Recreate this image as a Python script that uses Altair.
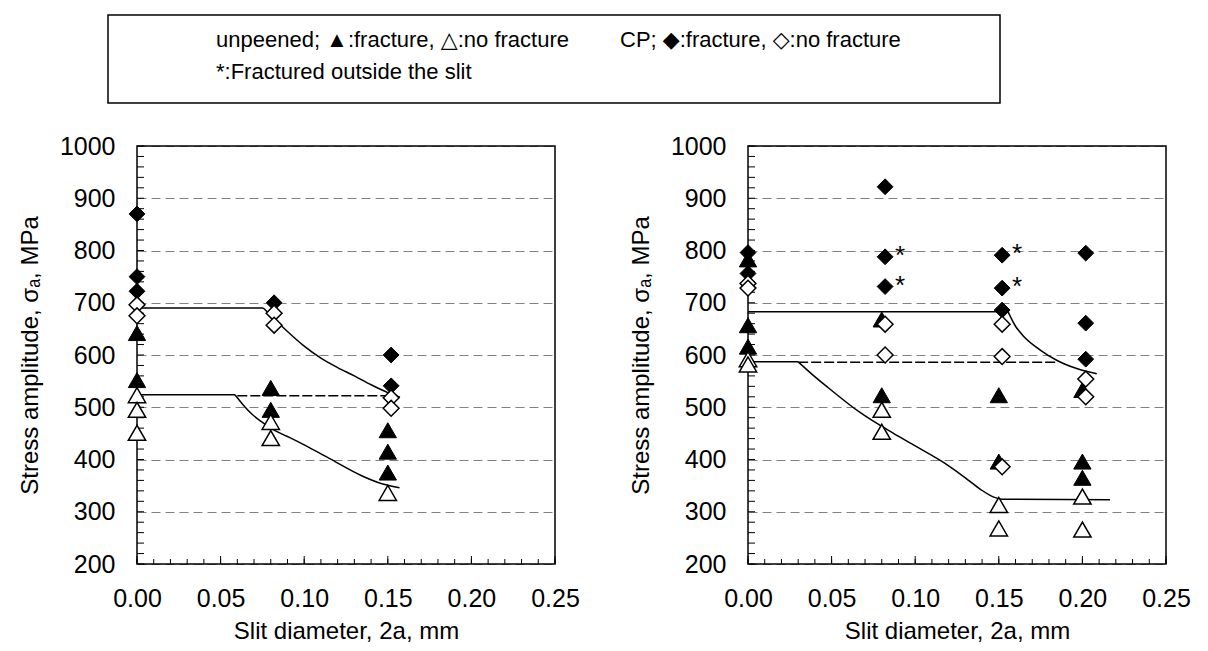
import altair as alt
import pandas as pd

FONT = "Liberation Sans, Arial, DejaVu Sans, sans-serif"
W = 418
H = 418
X_DOMAIN = [0, 0.25]
Y_DOMAIN = [200, 1000]

# ---------------- left panel ----------------
L_tri_fill_x = [0.00, 0.00, 0.08, 0.08, 0.15, 0.15, 0.15]
L_tri_fill_y = [642, 552, 537, 495, 456, 415, 375]
L_tri_open_x = [0.00, 0.00, 0.00, 0.08, 0.08, 0.15]
L_tri_open_y = [523, 495, 451, 472, 441, 336]
L_dia_fill_x = [0.00, 0.00, 0.00, 0.082, 0.152, 0.152]
L_dia_fill_y = [870, 750, 722, 700, 600, 541]
L_dia_open_x = [0.00, 0.00, 0.082, 0.082, 0.152, 0.152]
L_dia_open_y = [696, 675, 680, 657, 518, 498]
L_cp_flat_x = [0.0, 0.0755]
L_cp_flat_y = [690, 690]
L_cp_curve_x = [0.0755, 0.08, 0.09, 0.10, 0.11, 0.12, 0.13, 0.14, 0.15, 0.1573]
L_cp_curve_y = [690, 676, 645, 617, 594, 576, 560, 543, 528, 519]
L_un_flat_x = [0.0, 0.0586]
L_un_flat_y = [524, 524]
L_un_curve_x = [0.0586, 0.0634, 0.069, 0.075, 0.081, 0.09, 0.10, 0.115, 0.135, 0.147, 0.157]
L_un_curve_y = [524, 505, 486, 471, 458, 444, 428, 402, 368, 353, 346]
L_dash_x = [0.06, 0.155]
L_dash_y = [522, 522]
L_star_x = []
L_star_y = []

# ---------------- right panel ----------------
R_tri_fill_x = [0.00, 0.00, 0.00, 0.08, 0.08, 0.15, 0.15, 0.20, 0.20, 0.20]
R_tri_fill_y = [783, 657, 616, 668, 523, 523, 396, 533, 396, 365]
R_tri_open_x = [0.00, 0.00, 0.08, 0.08, 0.15, 0.15, 0.20, 0.20]
R_tri_open_y = [592, 582, 495, 453, 313, 268, 329, 266]
R_dia_fill_x = [0.00, 0.00, 0.082, 0.082, 0.082, 0.152, 0.152, 0.152, 0.202, 0.202, 0.202]
R_dia_fill_y = [796, 756, 922, 788, 731, 791, 728, 686, 795, 661, 592]
R_dia_open_x = [0.00, 0.00, 0.082, 0.082, 0.152, 0.152, 0.152, 0.202, 0.202]
R_dia_open_y = [737, 728, 659, 600, 659, 597, 386, 554, 520]
R_cp_flat_x = [0.0, 0.1555]
R_cp_flat_y = [683, 683]
R_cp_curve_x = [0.1555, 0.160, 0.1645, 0.1746, 0.1846, 0.1966, 0.2086]
R_cp_curve_y = [683, 655, 637, 610, 590, 574, 564]
R_un_flat_x = [0.0, 0.030]
R_un_flat_y = [587, 587]
R_un_curve_x = [0.030, 0.038, 0.047, 0.067, 0.087, 0.10, 0.12, 0.13, 0.139, 0.147, 0.152, 0.2165]
R_un_curve_y = [587, 564, 540, 490, 450, 426, 388, 365, 343, 328, 324, 323]
R_dash_x = [0.03, 0.185]
R_dash_y = [586, 586]
R_star_x = [0.082, 0.082, 0.152, 0.152]
R_star_y = [788, 731, 791, 728]

X_TICKS = [0.0, 0.05, 0.10, 0.15, 0.20, 0.25]
X_MINOR = [round(i * 0.01, 2) for i in range(26)]
Y_TICKS = list(range(200, 1001, 100))
Y_MINOR = list(range(200, 1001, 20))

LEG_LINE1A = "unpeened; \u25B2:fracture, \u25B3:no fracture"
LEG_LINE1B = "CP; \u25C6:fracture, \u25C7:no fracture"
LEG_LINE2 = "*:Fractured outside the slit"

Y_TITLE = "Stress amplitude, \u03C3\u2090, MPa"
X_TITLE = "Slit diameter, 2a, mm"


def df(xs, ys):
    return pd.DataFrame({"x": xs, "y": ys})


xs = alt.Scale(domain=X_DOMAIN, nice=False, zero=False)
ys = alt.Scale(domain=Y_DOMAIN, nice=False, zero=False)

main_x_axis = alt.Axis(values=X_TICKS, format=".2f", title=X_TITLE, grid=False,
                       ticks=False, domain=False, labelFontSize=25, titleFontSize=24,
                       labelFont=FONT, titleFont=FONT, labelColor="black",
                       titleColor="black", titleFontWeight="normal", labelPadding=22,
                       titlePadding=8, labelFlush=False)
main_y_axis = alt.Axis(values=Y_TICKS, format="d", title=Y_TITLE, grid=True, gridDash=[9, 5],
                       gridColor="#808080", gridWidth=1, ticks=False, domain=False,
                       labelFontSize=25, titleFontSize=24, labelFont=FONT, titleFont=FONT,
                       labelColor="black", titleColor="black", titleFontWeight="normal",
                       labelPadding=22, titlePadding=17, labelFlush=False)


def panel(tfx, tfy, tox, toy, dfx, dfy, dox, doy, cfx, cfy, cpx, cpy, ufx, ufy, unx, uny,
          dsx, dsy, stx, sty, legend=False):
    layers = []
    base_enc = dict(
        x=alt.X("x:Q", scale=xs, axis=main_x_axis),
        y=alt.Y("y:Q", scale=ys, axis=main_y_axis),
    )
    layers.append(alt.Chart(df(tfx, tfy)).mark_point(opacity=0).encode(**base_enc))

    one = pd.DataFrame({"k": [0]})
    # plot frame
    layers.append(alt.Chart(one).mark_rect(fill="white", fillOpacity=0, stroke="black",
                                           strokeWidth=1.5).encode(
        x=alt.value(0), x2=alt.value(W), y=alt.value(0), y2=alt.value(H)))

    # inward tick marks along the left and bottom edges
    layers.append(alt.Chart(pd.DataFrame({"t": Y_MINOR})).mark_rule(color="black", strokeWidth=1).encode(
        y=alt.Y("t:Q", scale=ys, axis=None), x=alt.value(0), x2=alt.value(7)))
    layers.append(alt.Chart(pd.DataFrame({"t": X_MINOR})).mark_rule(color="black", strokeWidth=1).encode(
        x=alt.X("t:Q", scale=xs, axis=None), y=alt.value(H), y2=alt.value(H - 5)))
    layers.append(alt.Chart(pd.DataFrame({"t": X_TICKS})).mark_rule(color="black", strokeWidth=1).encode(
        x=alt.X("t:Q", scale=xs, axis=None), y=alt.value(H), y2=alt.value(H - 8)))

    def enc():
        return dict(x=alt.X("x:Q", scale=xs, axis=None), y=alt.Y("y:Q", scale=ys, axis=None))

    for fx, fy in [(cfx, cfy), (ufx, ufy)]:
        layers.append(alt.Chart(df(fx, fy)).mark_line(color="black", strokeWidth=1.5).encode(**enc()))
    for cx, cy in [(cpx, cpy), (unx, uny)]:
        layers.append(alt.Chart(df(cx, cy)).mark_line(color="black", strokeWidth=1.5,
                                                      interpolate="monotone").encode(**enc()))
    layers.append(alt.Chart(df(dsx, dsy)).mark_line(color="black", strokeWidth=1.5,
                                                     strokeDash=[10, 3]).encode(**enc()))
    layers.append(alt.Chart(df(tfx, tfy)).mark_point(shape="triangle-up", filled=True, fill="black",
                                                      stroke="black", strokeWidth=1, size=300,
                                                      opacity=1).encode(**enc()))
    layers.append(alt.Chart(df(tox, toy)).mark_point(shape="triangle-up", filled=True, fill="white",
                                                      stroke="black", strokeWidth=1.5, size=300,
                                                      opacity=1).encode(**enc()))
    layers.append(alt.Chart(df(dfx, dfy)).mark_point(shape="diamond", filled=True, fill="black",
                                                      stroke="black", strokeWidth=1, size=250,
                                                      opacity=1).encode(**enc()))
    layers.append(alt.Chart(df(dox, doy)).mark_point(shape="diamond", filled=True, fill="white",
                                                      stroke="black", strokeWidth=1.5, size=250,
                                                      opacity=1).encode(**enc()))
    if len(stx):
        layers.append(alt.Chart(df(stx, sty)).mark_text(text="*", fontSize=26, font=FONT,
                                                         color="black", dx=15, dy=-1,
                                                         baseline="middle").encode(**enc()))
    if legend:
        layers.append(alt.Chart(one).mark_rect(fill="white", fillOpacity=0, stroke="black",
                                               strokeWidth=1.5).encode(
            x=alt.value(-29), x2=alt.value(863), y=alt.value(-131), y2=alt.value(-43)))
        for txt, px, py in [(LEG_LINE1A, 79, -106), (LEG_LINE1B, 483, -106), (LEG_LINE2, 79, -74)]:
            layers.append(alt.Chart(one).mark_text(text=txt, fontSize=22, font=FONT, color="black",
                                                   align="left", baseline="middle").encode(
                x=alt.value(px), y=alt.value(py)))
    return alt.layer(*layers).resolve_axis(x="independent", y="independent").properties(
        width=W, height=H)


left = panel(L_tri_fill_x, L_tri_fill_y, L_tri_open_x, L_tri_open_y, L_dia_fill_x, L_dia_fill_y,
             L_dia_open_x, L_dia_open_y, L_cp_flat_x, L_cp_flat_y, L_cp_curve_x, L_cp_curve_y,
             L_un_flat_x, L_un_flat_y, L_un_curve_x, L_un_curve_y,
             L_dash_x, L_dash_y, L_star_x, L_star_y, legend=True)
right = panel(R_tri_fill_x, R_tri_fill_y, R_tri_open_x, R_tri_open_y, R_dia_fill_x, R_dia_fill_y,
              R_dia_open_x, R_dia_open_y, R_cp_flat_x, R_cp_flat_y, R_cp_curve_x, R_cp_curve_y,
              R_un_flat_x, R_un_flat_y, R_un_curve_x, R_un_curve_y,
              R_dash_x, R_dash_y, R_star_x, R_star_y)

chart = alt.hconcat(left, right, spacing=193, bounds="flush").properties(
    padding={"left": 10, "top": 6, "right": 5, "bottom": 5}
).configure(background="white", view=alt.ViewConfig(strokeWidth=0))

chart.save("out.html", embed_options={"renderer": "svg", "actions": False})
